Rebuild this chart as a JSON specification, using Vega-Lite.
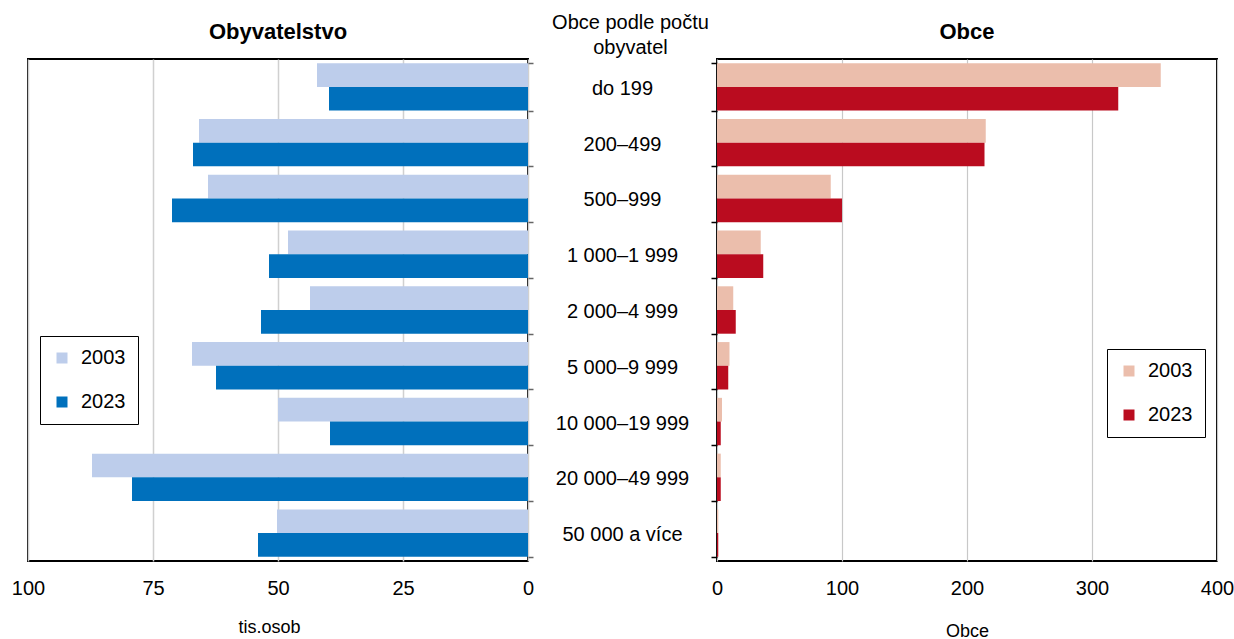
{
  "$schema": "https://vega.github.io/schema/vega-lite/v6.json",
  "padding": {"left": 10, "top": 13, "right": 5, "bottom": 0},
  "background": "white",
  "datasets": {
    "d": [
      {"kat": "do 199", "rok": "2003", "obyv": 42.2, "obce": 355},
      {"kat": "do 199", "rok": "2023", "obyv": 39.8, "obce": 321},
      {"kat": "200–499", "rok": "2003", "obyv": 65.8, "obce": 215},
      {"kat": "200–499", "rok": "2023", "obyv": 67.0, "obce": 214},
      {"kat": "500–999", "rok": "2003", "obyv": 64.0, "obce": 91},
      {"kat": "500–999", "rok": "2023", "obyv": 71.2, "obce": 100},
      {"kat": "1 000–1 999", "rok": "2003", "obyv": 48.0, "obce": 35},
      {"kat": "1 000–1 999", "rok": "2023", "obyv": 51.8, "obce": 37},
      {"kat": "2 000–4 999", "rok": "2003", "obyv": 43.6, "obce": 13},
      {"kat": "2 000–4 999", "rok": "2023", "obyv": 53.4, "obce": 15},
      {"kat": "5 000–9 999", "rok": "2003", "obyv": 67.2, "obce": 10},
      {"kat": "5 000–9 999", "rok": "2023", "obyv": 62.4, "obce": 9},
      {"kat": "10 000–19 999", "rok": "2003", "obyv": 50.0, "obce": 4},
      {"kat": "10 000–19 999", "rok": "2023", "obyv": 39.6, "obce": 3},
      {"kat": "20 000–49 999", "rok": "2003", "obyv": 87.2, "obce": 3},
      {"kat": "20 000–49 999", "rok": "2023", "obyv": 79.2, "obce": 3},
      {"kat": "50 000 a více", "rok": "2003", "obyv": 50.2, "obce": 1},
      {"kat": "50 000 a více", "rok": "2023", "obyv": 54.0, "obce": 1}
    ]
  },
  "config": {
    "font": "Liberation Sans",
    "view": {"stroke": "black", "strokeWidth": 2},
    "title": {"frame": "group", "anchor": "middle", "fontSize": 22, "fontWeight": "bold", "color": "black"},
    "axis": {"labelFontSize": 20, "labelColor": "black", "titleFontSize": 18, "titleFontWeight": "normal", "titleColor": "black", "domain": false, "labelFlush": false},
    "legend": {
      "orient": "none", "title": null, "fillColor": "white", "strokeColor": "black",
      "padding": 12, "rowPadding": 24, "symbolType": "square", "symbolSize": 121,
      "symbolStrokeWidth": 0, "labelFontSize": 20, "labelOffset": 9, "labelColor": "black"
    }
  },
  "hconcat": [
    {
      "data": {"name": "d"},
      "width": 500,
      "height": 502,
      "title": {"text": "Obyvatelstvo", "offset": 15},
      "mark": {"type": "bar"},
      "encoding": {
        "y": {
          "field": "kat", "type": "nominal",
          "sort": ["do 199", "200–499", "500–999", "1 000–1 999", "2 000–4 999", "5 000–9 999", "10 000–19 999", "20 000–49 999", "50 000 a více"],
          "scale": {"paddingInner": 0.15, "paddingOuter": 0.075},
          "axis": {"orient": "right", "labels": false, "title": null, "ticks": true, "tickBand": "extent", "tickSize": 5, "tickColor": "#666666", "tickWidth": 1.5, "grid": false}
        },
        "yOffset": {"field": "rok", "type": "nominal", "scale": {"paddingInner": 0}},
        "x": {
          "field": "obyv", "type": "quantitative",
          "scale": {"domain": [0, 100], "reverse": true, "nice": false},
          "axis": {"values": [0, 25, 50, 75, 100], "title": "tis.osob", "ticks": false, "labelPadding": 17, "titlePadding": 20, "titleX": 241, "grid": true, "gridColor": "#D0D0D0", "gridWidth": 1.5}
        },
        "color": {
          "field": "rok", "type": "nominal",
          "scale": {"domain": ["2003", "2023"], "range": ["#BDCDEB", "#0070BC"]},
          "legend": {"legendX": 12, "legendY": 277}
        }
      }
    },
    {
      "data": {"name": "d"},
      "width": 189,
      "height": 502,
      "view": {"stroke": null},
      "title": {"text": ["Obce podle počtu", "obyvatel"], "fontSize": 20, "fontWeight": "normal", "lineHeight": 25, "offset": 1, "dx": 8},
      "transform": [{"filter": "datum.rok === '2003'"}],
      "mark": {"type": "text", "fontSize": 20, "color": "black", "dy": 2},
      "encoding": {
        "y": {
          "field": "kat", "type": "nominal",
          "sort": ["do 199", "200–499", "500–999", "1 000–1 999", "2 000–4 999", "5 000–9 999", "10 000–19 999", "20 000–49 999", "50 000 a více"],
          "scale": {"paddingInner": 0.15, "paddingOuter": 0.075},
          "axis": null
        },
        "text": {"field": "kat"}
      }
    },
    {
      "data": {"name": "d"},
      "width": 500,
      "height": 502,
      "title": {"text": "Obce", "offset": 15},
      "mark": {"type": "bar"},
      "encoding": {
        "y": {
          "field": "kat", "type": "nominal",
          "sort": ["do 199", "200–499", "500–999", "1 000–1 999", "2 000–4 999", "5 000–9 999", "10 000–19 999", "20 000–49 999", "50 000 a více"],
          "scale": {"paddingInner": 0.15, "paddingOuter": 0.075},
          "axis": {"orient": "left", "labels": false, "title": null, "ticks": true, "tickBand": "extent", "tickSize": 6, "tickColor": "black", "tickWidth": 1.5, "grid": false}
        },
        "yOffset": {"field": "rok", "type": "nominal", "scale": {"paddingInner": 0}},
        "x": {
          "field": "obce", "type": "quantitative",
          "scale": {"domain": [0, 400], "nice": false},
          "axis": {"values": [0, 100, 200, 300, 400], "title": "Obce", "ticks": false, "labelPadding": 17, "titlePadding": 24, "grid": true, "gridColor": "#C8C8C8", "gridWidth": 1.2}
        },
        "color": {
          "field": "rok", "type": "nominal",
          "scale": {"domain": ["2003", "2023"], "range": ["#EBBEAC", "#BA0C1F"]},
          "legend": {"legendX": 390, "legendY": 290}
        }
      }
    }
  ],
  "spacing": 0,
  "bounds": "flush",
  "resolve": {
    "scale": {"color": "independent", "x": "independent", "y": "independent", "yOffset": "independent"},
    "legend": {"color": "independent"}
  }
}
